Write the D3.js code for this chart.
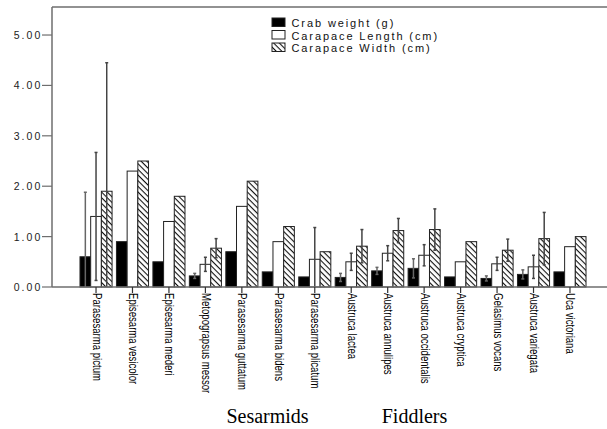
<!DOCTYPE html>
<html>
<head>
<meta charset="utf-8">
<script src="https://cdn.jsdelivr.net/npm/d3@7"></script>
<style>
  html, body { margin: 0; padding: 0; background: #fff; }
  svg { display: block; }
</style>
</head>
<body>
<svg id="chart" width="607" height="429"></svg>
<script>
// ---- data ----
const categories = [
  "Parasesarma pictum", "Episesarma vesicolor", "Episesarma mederi", "Metopograpsus messor",
  "Parasesarma guttatum", "Parasesarma bidens", "Parasesarma plicatum", "Austruca lactea",
  "Austruca annulipes", "Austruca occidentalis", "Austruca cryptica", "Gelasimus vocans",
  "Austruca variegata", "Uca victoriana"
];
const seriesNames = ["Crab weight (g)", "Carapace Length (cm)", "Carapace Width (cm)"];
const crabWeight      = [0.60, 0.90, 0.50, 0.22, 0.70, 0.30, 0.20, 0.19, 0.32, 0.37, 0.20, 0.17, 0.25, 0.30];
const carapaceLength  = [1.40, 2.30, 1.30, 0.45, 1.60, 0.90, 0.55, 0.50, 0.67, 0.63, 0.50, 0.46, 0.40, 0.80];
const carapaceWidth   = [1.90, 2.50, 1.80, 0.77, 2.10, 1.20, 0.70, 0.81, 1.12, 1.14, 0.90, 0.73, 0.96, 1.00];
// error half-widths (0 = no error bar drawn)
const crabWeightErr     = [1.28, 0, 0, 0.05, 0, 0, 0, 0.08, 0.07, 0.19, 0, 0.05, 0.09, 0];
const carapaceLengthErr = [1.27, 0, 0, 0.14, 0, 0, 0.63, 0.17, 0.15, 0.21, 0, 0.13, 0.23, 0];
const carapaceWidthErr  = [2.55, 0, 0, 0.19, 0, 0, 0, 0.33, 0.24, 0.41, 0, 0.22, 0.52, 0];
const yTicks = [0, 1, 2, 3, 4, 5];
const groupLabels = ["Sesarmids", "Fiddlers"];

const values = [crabWeight, carapaceLength, carapaceWidth];
const errs = [crabWeightErr, carapaceLengthErr, carapaceWidthErr];

const svg = d3.select("#chart");
const frameColor = "#6e6e6e";

// hatch pattern ("\" direction)
const defs = svg.append("defs");
const pat = defs.append("pattern")
  .attr("id", "hatch").attr("patternUnits", "userSpaceOnUse")
  .attr("width", 4).attr("height", 4)
  .attr("patternTransform", "rotate(45)");
pat.append("rect").attr("width", 4).attr("height", 4).attr("fill", "#fff");
pat.append("line").attr("x1", 0).attr("y1", 0).attr("x2", 4).attr("y2", 0)
  .attr("stroke", "#111").attr("stroke-width", 2.2);

const fills = ["#000", "#fff", "url(#hatch)"];

// scales
const y = d3.scaleLinear().domain([0, 5.556]).range([287, 7]);
const x = d3.scaleBand().domain(categories).range([77.8, 588.2])
  .paddingInner(0.12).paddingOuter(0.06);
const xs = d3.scaleBand().domain(seriesNames).range([0, x.bandwidth()]);

// frame: left axis + top line
svg.append("line").attr("x1", 52).attr("x2", 607).attr("y1", 7).attr("y2", 7)
  .attr("stroke", frameColor).attr("stroke-width", 1.5);
svg.append("line").attr("x1", 52).attr("x2", 52).attr("y1", 7).attr("y2", 287)
  .attr("stroke", frameColor).attr("stroke-width", 1.5);

// y axis ticks and labels
const yAxis = svg.append("g").attr("class", "y-axis");
yAxis.selectAll("line").data(yTicks).join("line")
  .attr("x1", 42).attr("x2", 52)
  .attr("y1", d => y(d)).attr("y2", d => y(d))
  .attr("stroke", frameColor).attr("stroke-width", 1.2);
yAxis.selectAll("text").data(yTicks).join("text")
  .attr("x", 42.5).attr("y", d => y(d) + 4)
  .attr("text-anchor", "end")
  .attr("font-family", "Liberation Sans, Arial, sans-serif")
  .attr("font-size", 10.5)
  .attr("letter-spacing", 2.1)
  .attr("fill", "#222")
  .text(d => d.toFixed(2));

// bars
const groups = svg.append("g").selectAll("g").data(categories).join("g")
  .attr("transform", d => `translate(${x(d)},0)`);

seriesNames.forEach((s, si) => {
  groups.append("rect")
    .attr("x", xs(s))
    .attr("width", xs.bandwidth())
    .attr("y", (d, i) => y(values[si][i]))
    .attr("height", (d, i) => y(0) - y(values[si][i]))
    .attr("fill", fills[si])
    .attr("stroke", "#222")
    .attr("stroke-width", 1);
});

// error bars
seriesNames.forEach((s, si) => {
  const cx = xs(s) + xs.bandwidth() / 2;
  groups.each(function(d, i) {
    const e = errs[si][i];
    if (!e) return;
    const v = values[si][i];
    const top = y(v + e), bot = y(Math.max(0, v - e));
    const g = d3.select(this);
    const col = si === 0 ? "#666" : "#444";
    g.append("line").attr("x1", cx).attr("x2", cx).attr("y1", top).attr("y2", bot)
      .attr("stroke", col).attr("stroke-width", 1.5);
    g.append("line").attr("x1", cx - 1.5).attr("x2", cx + 1.5).attr("y1", top).attr("y2", top)
      .attr("stroke", col).attr("stroke-width", 1.5);
    if (v - e > 0) {
      g.append("line").attr("x1", cx - 1.5).attr("x2", cx + 1.5).attr("y1", bot).attr("y2", bot)
        .attr("stroke", col).attr("stroke-width", 1.5);
    }
  });
});

// baseline
svg.append("line").attr("x1", 52).attr("x2", 607).attr("y1", y(0)).attr("y2", y(0))
  .attr("stroke", frameColor).attr("stroke-width", 1.5);

// x ticks and rotated labels
const xAxis = svg.append("g");
xAxis.selectAll("line").data(categories).join("line")
  .attr("x1", d => x(d) + x.bandwidth() / 2).attr("x2", d => x(d) + x.bandwidth() / 2)
  .attr("y1", y(0)).attr("y2", y(0) + 6)
  .attr("stroke", "#333").attr("stroke-width", 1.2);
xAxis.selectAll("text").data(categories).join("text")
  .attr("transform", d => `translate(${x(d) + x.bandwidth() / 2 - 3.5},${y(0) + 6}) rotate(90) scale(0.8,1)`)
  .attr("text-anchor", "start")
  .attr("font-family", "Liberation Sans, Arial, sans-serif")
  .attr("font-size", 12)
  .attr("fill", "#000")
  .text(d => d);

// legend
const legend = svg.append("g").attr("transform", "translate(272,18)");
seriesNames.forEach((s, i) => {
  legend.append("rect").attr("x", 0).attr("y", i * 12.5).attr("width", 13).attr("height", 8.5)
    .attr("fill", fills[i]).attr("stroke", "#222").attr("stroke-width", 1);
  legend.append("text").attr("x", 19.5).attr("y", i * 12.5 + 9)
    .attr("font-family", "Liberation Sans, Arial, sans-serif")
    .attr("font-size", 11)
    .attr("letter-spacing", 1.9)
    .attr("fill", "#111")
    .text(s);
});

// group labels
const groupX = [267.5, 414.5];
svg.selectAll("text.grp").data(groupLabels).join("text")
  .attr("class", "grp")
  .attr("x", (d, i) => groupX[i]).attr("y", 423)
  .attr("text-anchor", "middle")
  .attr("font-family", "Liberation Serif, Times New Roman, serif")
  .attr("font-size", 20)
  .attr("fill", "#000")
  .text(d => d);
</script>
</body>
</html>
